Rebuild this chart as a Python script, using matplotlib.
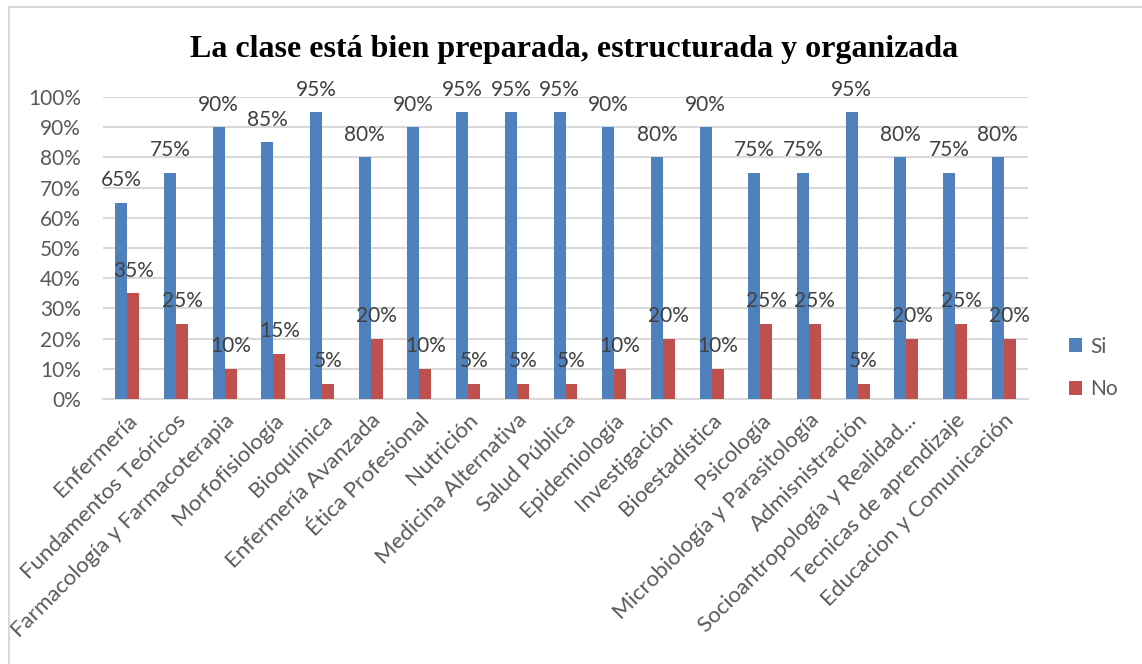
import numpy as np
import matplotlib.pyplot as plt
from matplotlib.patches import Rectangle

asignaturas = ["Enfermería", "Fundamentos Teóricos", "Farmacología y Farmacoterapia",
               "Morfofisiología", "Bioquímica", "Enfermería Avanzada", "Ética Profesional",
               "Nutrición", "Medicina Alternativa", "Salud Pública", "Epidemiología",
               "Investigación", "Bioestadística", "Psicología", "Microbiología y Parasitología",
               "Admisnistración", "Socioantropología y Realidad...", "Tecnicas de aprendizaje",
               "Educacion y Comunicación"]
si = [0.65, 0.75, 0.90, 0.85, 0.95, 0.80, 0.90, 0.95, 0.95, 0.95,
      0.90, 0.80, 0.90, 0.75, 0.75, 0.95, 0.80, 0.75, 0.80]
no = [0.35, 0.25, 0.10, 0.15, 0.05, 0.20, 0.10, 0.05, 0.05, 0.05,
      0.10, 0.20, 0.10, 0.25, 0.25, 0.05, 0.20, 0.25, 0.20]

azul = "#4F81BD"
rojo = "#C0504D"
gris = "#595959"

plt.rcParams['font.family'] = ['Lato', 'DejaVu Sans']

fig = plt.figure(figsize=(11.42, 6.64), dpi=100)
ax = fig.add_axes([103/1142, 1 - 399/664, 925/1142, 302/664])

x = np.arange(len(asignaturas))
w = 0.246
b1 = ax.bar(x - w/2, si, w, color=azul, label="Si", zorder=3)
b2 = ax.bar(x + w/2, no, w, color=rojo, label="No", zorder=3)

for barras in (b1, b2):
    for r in barras:
        v = r.get_height()
        ax.annotate(f"{v*100:.0f}%", (r.get_x() + r.get_width()/2, v),
                    xytext=(0, 9), textcoords="offset points",
                    ha="center", va="bottom", fontsize=15, color="#404040", zorder=4)

ax.set_xlim(-0.5, len(asignaturas) - 0.5)
ax.set_ylim(0, 1.0)
ax.set_yticks(np.arange(0, 1.01, 0.1))
ax.set_yticklabels([f"{t*100:.0f}%" for t in np.arange(0, 1.01, 0.1)])
ax.yaxis.grid(True, color="#D9D9D9", linewidth=1.5, zorder=0)
ax.set_axisbelow(True)
for s in ["left", "right", "top"]:
    ax.spines[s].set_visible(False)
ax.spines["bottom"].set_color("#D9D9D9")
ax.spines["bottom"].set_linewidth(1.5)
ax.tick_params(axis="y", length=0, pad=16, labelsize=15, labelcolor=gris)
ax.tick_params(axis="x", length=0, pad=8, labelsize=16, labelcolor=gris)
ax.set_xticks(x)
ax.set_xticklabels(asignaturas, rotation=45, ha="right", rotation_mode="anchor")

fig.text(0.503, 1 - 49/664, "La clase está bien preparada, estructurada y organizada",
         ha="center", va="center", fontsize=23, fontweight="bold",
         family="Liberation Serif", color="black")

ax.legend(loc="center left", bbox_to_anchor=(1050/1142, 1 - 368/664),
          bbox_transform=fig.transFigure, frameon=False, fontsize=15,
          handlelength=0.65, handleheight=0.65, handletextpad=0.4,
          labelspacing=1.1, labelcolor=gris)

# marco del gráfico
fig.patches.append(Rectangle((9/1142, -0.1), 1.2, 1 - 7/664 + 0.1,
                             transform=fig.transFigure, fill=False,
                             edgecolor="#D9D9D9", linewidth=1.5))

fig.savefig("out.png", dpi=100)
